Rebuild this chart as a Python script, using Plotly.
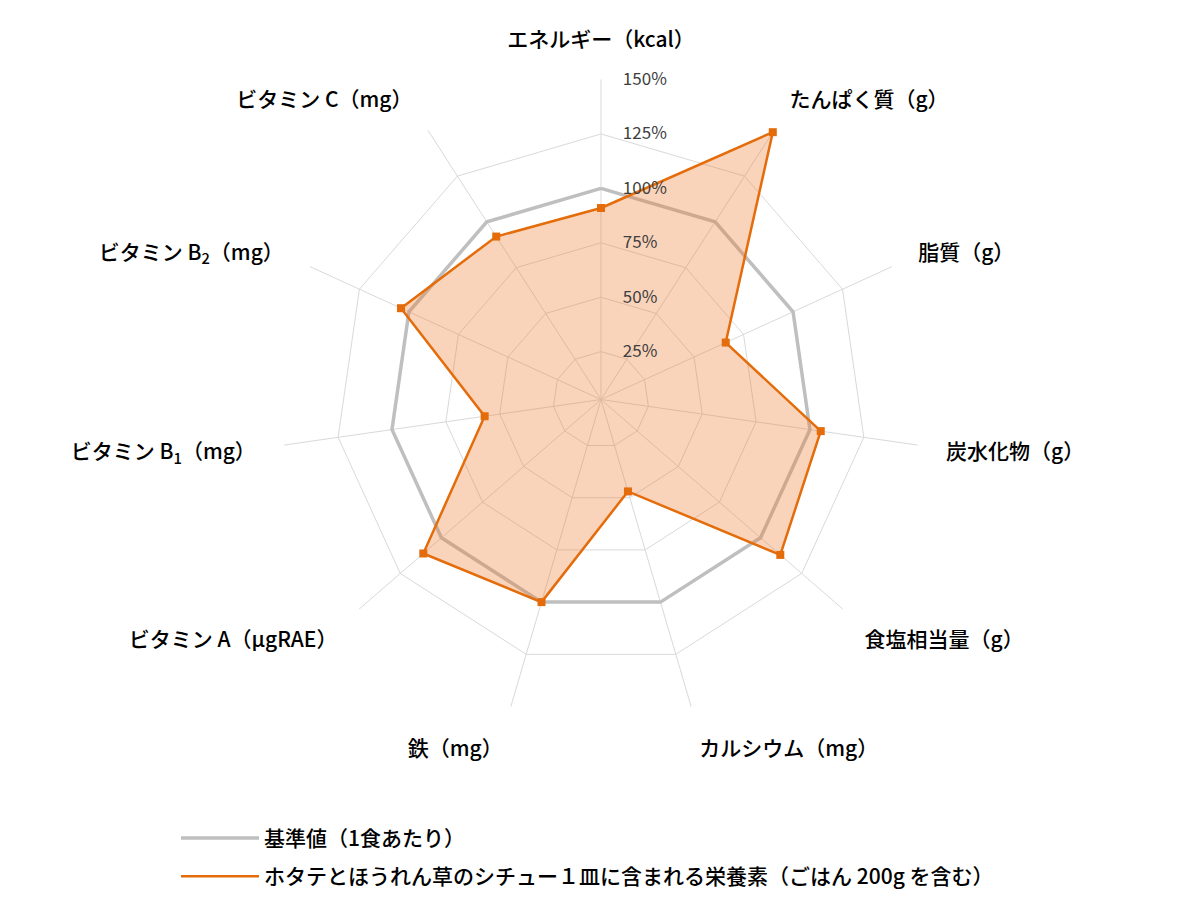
import plotly.graph_objects as go

# 栄養素の項目と充足率（%）
categories = [
    "エネルギー（kcal）",
    "たんぱく質（g）",
    "脂質（g）",
    "炭水化物（g）",
    "食塩相当量（g）",
    "カルシウム（mg）",
    "鉄（mg）",
    "ビタミン A（μgRAE）",
    "ビタミン B<sub>1</sub>（mg）",
    "ビタミン B<sub>2</sub>（mg）",
    "ビタミン C（mg）",
]
standard = [100, 100, 100, 100, 100, 100, 100, 100, 100, 100, 100]
dish = [91, 149, 66, 105, 112, 47, 100, 111, 57, 104, 92]
radial_ticks = [25, 50, 75, 100, 125, 150]
radial_labels = ["25%", "50%", "75%", "100%", "125%", "150%"]

name_standard = "基準値（1食あたり）"
name_dish = "ホタテとほうれん草のシチュー１皿に含まれる栄養素（ごはん 200g を含む）"

font_jp = "Noto Sans CJK JP"
orange = "#E46C0A"
gray = "#BFBFBF"


def closed(vals):
    return list(vals) + [vals[0]]


cats = closed(categories)

fig = go.Figure()

fig.add_trace(go.Scatterpolar(
    r=closed(standard), theta=cats, mode="lines", name=name_standard,
    line=dict(color=gray, width=3.5), legendgroup="a",
    hoverinfo="skip",
))
fig.add_trace(go.Scatterpolar(
    r=closed(dish), theta=cats, mode="lines", showlegend=False,
    line=dict(color=orange, width=2.5), fill="toself",
    fillcolor="rgba(237,125,49,0.33)", legendgroup="b",
))
fig.add_trace(go.Scatterpolar(
    r=dish, theta=categories, mode="markers", showlegend=False,
    marker=dict(symbol="square", size=8, color=orange), legendgroup="b",
))
# 凡例用（線のみ）
fig.add_trace(go.Scatterpolar(
    r=[None], theta=[None], mode="lines", name=name_dish,
    line=dict(color=orange, width=2.5), legendgroup="b",
))

fig.update_layout(
    width=1200, height=915,
    margin=dict(l=0, r=0, t=0, b=0),
    paper_bgcolor="white",
    font=dict(family=font_jp, color="#000000"),
    polar=dict(
        domain=dict(x=[0.2275, 0.7608], y=[0.2224, 0.9218]),
        bgcolor="white",
        gridshape="linear",
        angularaxis=dict(
            rotation=90, direction="clockwise",
            showline=False,
            gridcolor="#D9D9D9", gridwidth=1,
            ticks="outside", ticklen=24, tickcolor="rgba(0,0,0,0)",
            tickfont=dict(size=21, color="#000000", family=font_jp, weight=500),
        ),
        radialaxis=dict(
            range=[3, 150], angle=90, side="clockwise", tickangle=90,
            tickvals=radial_ticks, ticktext=radial_labels,
            showline=False, ticks="outside", ticklen=18,
            tickcolor="rgba(0,0,0,0)",
            gridcolor="#D9D9D9", gridwidth=1,
            tickfont=dict(size=17, color="#404040", family=font_jp),
        ),
    ),
    legend=dict(
        x=0.14, y=0.115, xanchor="left", yanchor="top",
        font=dict(size=21, color="#000000", family=font_jp, weight=500),
        tracegroupgap=8, itemwidth=78,
        bgcolor="rgba(0,0,0,0)",
    ),
)

fig.write_html("out.html")
